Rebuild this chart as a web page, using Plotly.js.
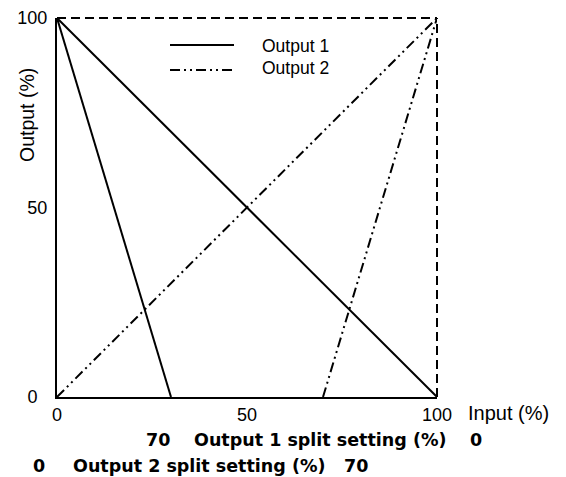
<!DOCTYPE html>
<html>
<head>
<meta charset="utf-8">
<script src="https://cdn.plot.ly/plotly-3.0.1.min.js"></script>
<style>html,body{margin:0;padding:0;background:#fff;}#chart{width:566px;height:477px;}</style>
</head>
<body>
<div id="chart"></div>
<script>
// Data
const out1SteepX = [0, 30];
const out1SteepY = [100, 0];
const out1DiagX = [0, 100];
const out1DiagY = [100, 0];
const out2DiagX = [0, 100];
const out2DiagY = [0, 100];
const out2SteepX = [70, 100];
const out2SteepY = [0, 100];
const tickVals = [0, 50, 100];
const xTickText = ['0', '50', '100'];
const yTickText = ['0\u00a0\u00a0', '50', '100'];
const seriesNames = ['Output 1', 'Output 2'];

const DASHDOT2 = '10px,4px,2px,4px,2px,4px';
const solid = {color: '#000', width: 2};
const dd = {color: '#000', width: 2, dash: DASHDOT2};

const traces = [
  {x: out1SteepX, y: out1SteepY, mode: 'lines', line: solid, name: seriesNames[0], showlegend: false, hoverinfo: 'skip'},
  {x: out1DiagX, y: out1DiagY, mode: 'lines', line: solid, name: seriesNames[0], showlegend: false, hoverinfo: 'skip'},
  {x: out2DiagX, y: out2DiagY, mode: 'lines', line: dd, name: seriesNames[1], showlegend: false, hoverinfo: 'skip'},
  {x: out2SteepX, y: out2SteepY, mode: 'lines', line: dd, name: seriesNames[1], showlegend: false, hoverinfo: 'skip'}
];

const F = 'Liberation Sans, Arial, sans-serif';
const FB = 'DejaVu Sans, Liberation Sans, sans-serif';
const W = 380, H = 379; // plot size in px
function px(x) { return (x - 57) / W; }
function py(y) { return (397 - y) / H; }
function ann(x, y, text, xanchor, font, extra) {
  return Object.assign({xref: 'paper', yref: 'paper', x: px(x), y: py(y), text: text, showarrow: false,
    xanchor: xanchor, yanchor: 'middle', borderpad: 0, font: font}, extra || {});
}
const boldFont = {family: FB, size: 17.5, color: '#000'};

const layout = {
  width: 566, height: 477,
  margin: {l: 57, r: 129, t: 18, b: 80},
  paper_bgcolor: '#fff', plot_bgcolor: '#fff',
  font: {family: F, size: 18, color: '#000'},
  showlegend: false,
  xaxis: {range: [0, 100], tickvals: tickVals, ticktext: xTickText, showgrid: false, zeroline: false,
          showline: true, linecolor: '#000', linewidth: 2, ticks: '', ticklabelstandoff: 0,
          tickfont: {family: F, size: 18, color: '#000'}},
  yaxis: {range: [0, 100], tickvals: tickVals, ticktext: yTickText, showgrid: false, zeroline: false,
          showline: true, linecolor: '#000', linewidth: 2, ticks: '', ticklabelstandoff: 4,
          tickfont: {family: F, size: 18, color: '#000'}},
  shapes: [
    {type: 'line', xref: 'paper', yref: 'paper', x0: 0, x1: 1, y0: 1, y1: 1, line: {color: '#000', width: 2, dash: '9px,5px'}},
    {type: 'line', xref: 'paper', yref: 'paper', x0: 1, x1: 1, y0: 0, y1: 1, line: {color: '#000', width: 2, dash: '9px,5px'}},
    // legend samples
    {type: 'line', xref: 'paper', yref: 'paper', x0: px(170), x1: px(234), y0: py(45), y1: py(45), line: solid},
    {type: 'line', xref: 'paper', yref: 'paper', x0: px(170), x1: px(234), y0: py(70), y1: py(70), line: dd}
  ],
  annotations: [
    ann(261, 46, seriesNames[0], 'left', {family: F, size: 17.5}),
    ann(261, 68, seriesNames[1], 'left', {family: F, size: 17.5}),
    ann(27, 115, 'Output (%)', 'center', {family: F, size: 19.5}, {textangle: -90}),
    ann(467, 413, 'Input (%)', 'left', {family: F, size: 20}),
    ann(158, 440, '<b>70</b>', 'center', boldFont),
    ann(193, 440, '<b>Output 1 split setting (%)</b>', 'left', boldFont),
    ann(476, 440, '<b>0</b>', 'center', boldFont),
    ann(39, 466, '<b>0</b>', 'center', boldFont),
    ann(72, 466, '<b>Output 2 split setting (%)</b>', 'left', boldFont),
    ann(356, 466, '<b>70</b>', 'center', boldFont)
  ]
};

Plotly.newPlot('chart', traces, layout, {displayModeBar: false, staticPlot: true});
</script>
</body>
</html>
